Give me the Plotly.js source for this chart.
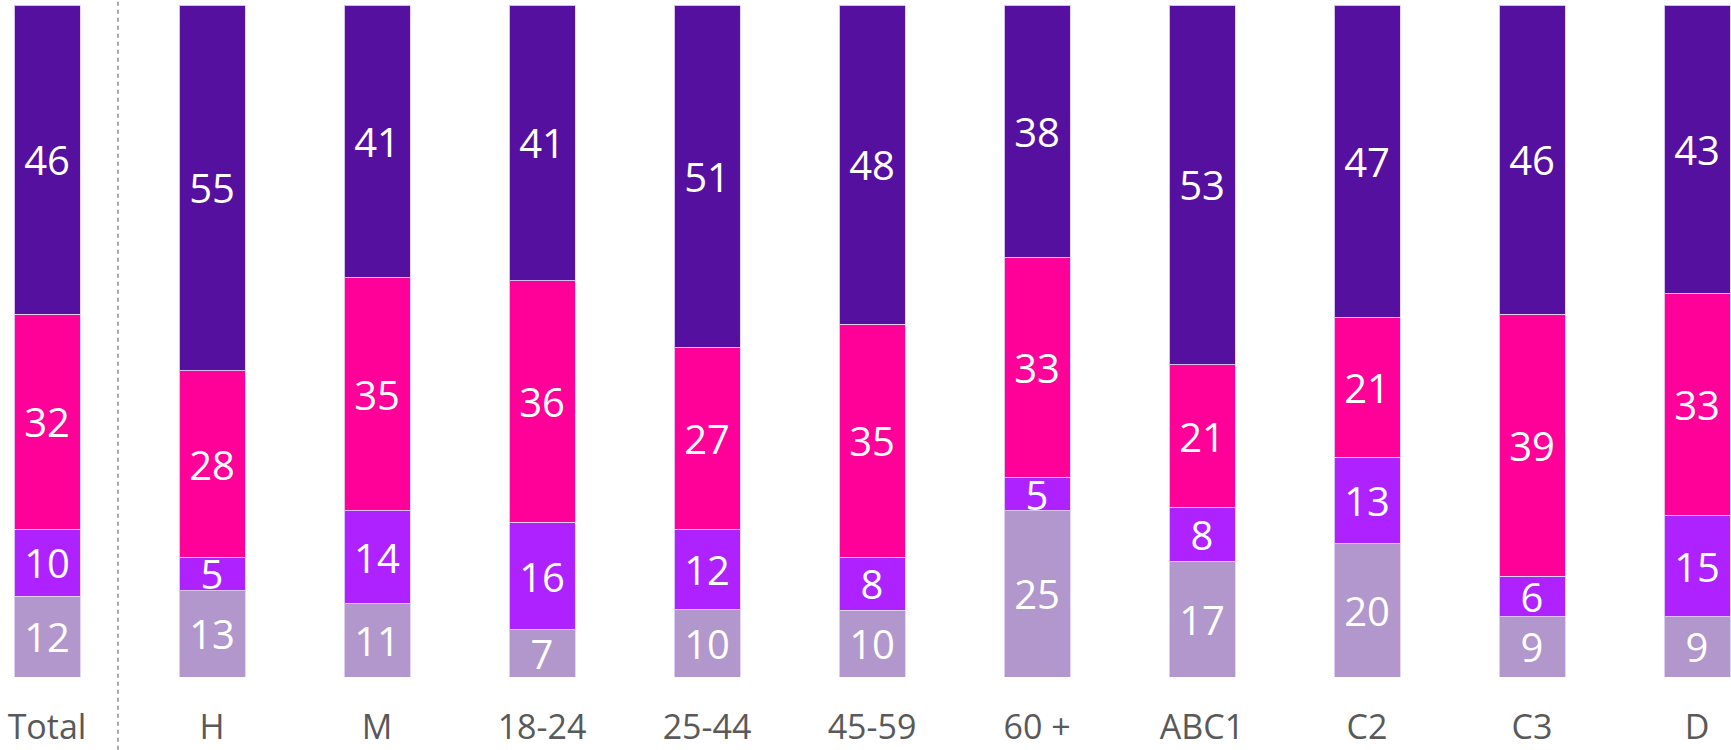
<!DOCTYPE html>
<html>
<head>
<meta charset="utf-8">
<script src="https://cdn.plot.ly/plotly-3.0.1.min.js"></script>
<style>
  html, body { margin: 0; padding: 0; background: #ffffff; }
  #chart { width: 1731px; height: 750px; }
</style>
</head>
<body>
<div id="chart"></div>
<script>
const categories = ['Total', 'H', 'M', '18-24', '25-44', '45-59', '60 +', 'ABC1', 'C2', 'C3', 'D'];
const seriesTop = [46, 55, 41, 41, 51, 48, 38, 53, 47, 46, 43];
const seriesMagenta = [32, 28, 35, 36, 27, 35, 33, 21, 21, 39, 33];
const seriesBright = [10, 5, 14, 16, 12, 8, 5, 8, 13, 6, 15];
const seriesLight = [12, 13, 11, 7, 10, 10, 25, 17, 20, 9, 9];

const colors = {
  light: '#B197CC',
  bright: '#AD22FF',
  magenta: '#FF0099',
  top: '#56109F'
};

function mk(name, vals, color) {
  return {
    type: 'bar',
    name: name,
    x: categories,
    y: vals,
    text: vals.map(String),
    texttemplate: '%{text}',
    textposition: 'inside',
    insidetextanchor: 'middle',
    textangle: 0,
    textfont: { family: 'Open Sans, sans-serif', size: 40, color: '#ffffff' },
    marker: { color: color, line: { color: 'rgba(225,210,245,0.9)', width: 1 } },
    hoverinfo: 'skip'
  };
}

const data = [
  mk('Series 4', seriesLight, colors.light),
  mk('Series 3', seriesBright, colors.bright),
  mk('Series 2', seriesMagenta, colors.magenta),
  mk('Series 1', seriesTop, colors.top)
];

const layout = {
  width: 1731,
  height: 750,
  margin: { l: 0, r: 0, t: 5, b: 73, pad: 0 },
  paper_bgcolor: '#ffffff',
  plot_bgcolor: '#ffffff',
  barmode: 'stack',
  barnorm: 'percent',
  bargap: 0.6,
  showlegend: false,
  hovermode: false,
  uniformtext: { mode: 'show', minsize: 40 },
  xaxis: {
    type: 'category',
    range: [-0.285, 10.206],
    showgrid: false,
    zeroline: false,
    showline: false,
    ticks: 'outside',
    ticklen: 20,
    tickcolor: 'rgba(0,0,0,0)',
    tickfont: { family: 'Open Sans, sans-serif', size: 34, color: '#595959' }
  },
  yaxis: {
    range: [0, 100],
    showgrid: false,
    zeroline: false,
    showline: false,
    showticklabels: false,
    ticks: ''
  },
  shapes: [{
    type: 'line',
    xref: 'x',
    yref: 'paper',
    x0: 0.43, x1: 0.43,
    y0: -0.12, y1: 1.01,
    line: { color: '#8C8C8C', width: 1.5, dash: '4px,4px' }
  }]
};

Plotly.newPlot('chart', data, layout, { displayModeBar: false, staticPlot: true });
</script>
</body>
</html>
